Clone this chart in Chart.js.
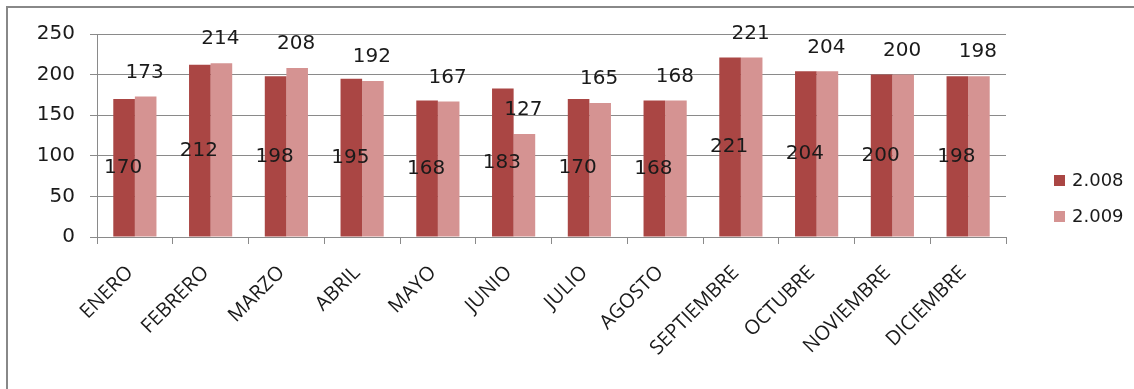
<!DOCTYPE html>
<html>
<head>
<meta charset="utf-8">
<script src="https://cdn.jsdelivr.net/npm/chart.js@4/dist/chart.umd.min.js"></script>
<style>
    body { margin: 0; background: #fff; overflow: hidden; }
    #frame { position: absolute; left: 6px; top: 6px; width: 2000px; height: 2000px; border: 2px solid #888; }
    #wrap { position: absolute; left: 0; top: 0; width: 1134px; height: 389px; }
</style>
</head>
<body>
<div id="frame"></div>
<div id="wrap"><canvas id="chart"></canvas></div>
<script>
const months = ['ENERO', 'FEBRERO', 'MARZO', 'ABRIL', 'MAYO', 'JUNIO',
    'JULIO', 'AGOSTO', 'SEPTIEMBRE', 'OCTUBRE', 'NOVIEMBRE', 'DICIEMBRE'];
const values2008 = [170, 212, 198, 195, 168, 183, 170, 168, 221, 204, 200, 198];
const values2009 = [173, 214, 208, 192, 167, 127, 165, 168, 221, 204, 200, 198];
const seriesNames = ['2.008', '2.009'];
const yTicks = [0, 50, 100, 150, 200, 250];

const gridColor = '#8a8a8a';
const numFont = '"DejaVu Sans", Verdana, sans-serif';

// value labels: first series in the middle of the bar, second above it
const valueLabels = {
    id: 'valueLabels',
    afterDatasetsDraw(chart) {
        const ctx = chart.ctx;
        ctx.save();
        ctx.font = '20px ' + numFont;
        ctx.fillStyle = '#1a1a1a';
        ctx.textAlign = 'center';
        ctx.textBaseline = 'middle';
        chart.data.datasets.forEach((ds, di) => {
            chart.getDatasetMeta(di).data.forEach((bar, i) => {
                const y = di === 0 ? (bar.y + bar.base) / 2 : bar.y - 24;
                ctx.fillText(String(ds.data[i]), bar.x - 1, y);
            });
        });
        ctx.restore();
    }
};

// legend drawn to the right of the plot, like the spreadsheet one
const sideLegend = {
    id: 'sideLegend',
    afterDraw(chart) {
        const ctx = chart.ctx;
        const left = chart.chartArea.right + 48;
        const rows = [181, 217];
        ctx.save();
        ctx.font = '18px ' + numFont;
        ctx.textBaseline = 'middle';
        ctx.textAlign = 'left';
        chart.data.datasets.forEach((ds, i) => {
            ctx.fillStyle = ds.backgroundColor;
            ctx.fillRect(left, rows[i] - 6, 11, 11);
            ctx.fillStyle = '#1a1a1a';
            ctx.fillText(ds.label, left + 18, rows[i]);
        });
        ctx.restore();
    }
};

new Chart(document.getElementById('chart'), {
    type: 'bar',
    data: {
        labels: months,
        datasets: [
            { label: seriesNames[0], data: values2008, backgroundColor: '#AA4644' },
            { label: seriesNames[1], data: values2009, backgroundColor: '#D59392' }
        ]
    },
    options: {
        responsive: true,
        maintainAspectRatio: false,
        animation: false,
        events: [],
        layout: { padding: { top: 34, right: 128, bottom: 0, left: 0 } },
        datasets: { bar: { categoryPercentage: 0.57, barPercentage: 1.0 } },
        plugins: {
            legend: { display: false },
            tooltip: { enabled: false }
        },
        scales: {
            x: {
                grid: { drawOnChartArea: false, color: gridColor, tickLength: 7, offset: true },
                border: { color: gridColor },
                ticks: {
                    color: '#1a1a1a',
                    font: { family: '"Open Sans", sans-serif', size: 20 },
                    minRotation: 45,
                    maxRotation: 45,
                    padding: 17,
                    labelOffset: -5,
                    autoSkip: false
                },
                afterFit(scale) { scale.height = 152; }
            },
            y: {
                min: 0,
                max: 250,
                afterBuildTicks(scale) { scale.ticks = yTicks.map(v => ({ value: v })); },
                grid: { color: gridColor, tickLength: 7 },
                border: { color: gridColor },
                ticks: {
                    color: '#1a1a1a',
                    font: { family: numFont, size: 20 },
                    padding: 15
                },
                afterFit(scale) { scale.width = 97; }
            }
        }
    },
    plugins: [valueLabels, sideLegend]
});
</script>
</body>
</html>
